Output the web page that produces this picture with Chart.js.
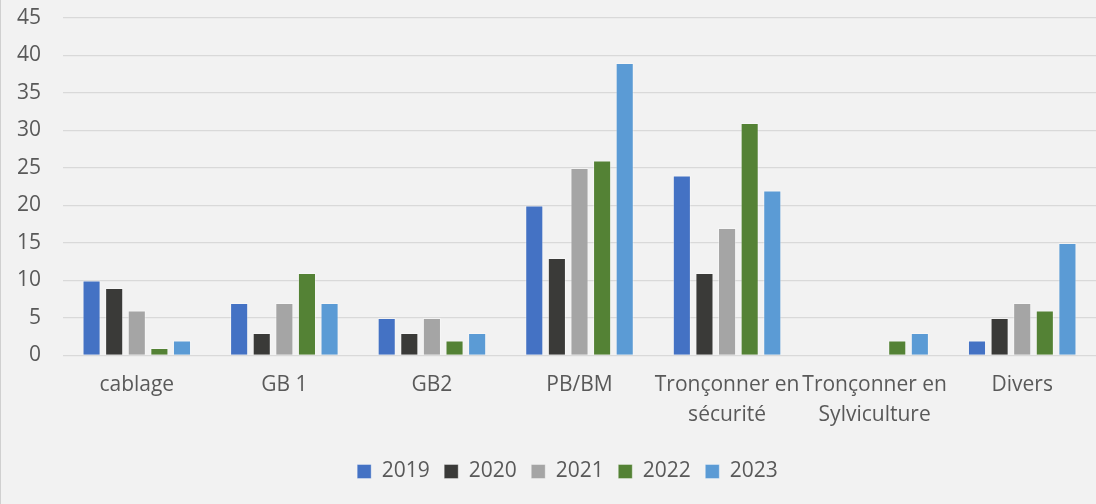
<!DOCTYPE html>
<html>
<head>
<meta charset="utf-8">
<script src="https://cdn.jsdelivr.net/npm/chart.js@4/dist/chart.umd.min.js"></script>
<style>
  html, body { margin: 0; padding: 0; background: #f2f2f2; }
  #wrap { width: 1095px; height: 504px; border-left: 1px solid #d0d0d0; }
  canvas { display: block; }
</style>
</head>
<body>
<div id="wrap"><canvas id="chart" width="1095" height="504"></canvas></div>
<script>
// Categories and yearly values
const categories = [
    'cablage',
    'GB 1',
    'GB2',
    'PB/BM',
    ['Tronçonner en', 'sécurité'],
    ['Tronçonner en', 'Sylviculture'],
    'Divers'
];
const years = ['2019', '2020', '2021', '2022', '2023'];
const values2019 = [10, 7, 5, 20, 24, null, 2];
const values2020 = [9, 3, 3, 13, 11, null, 5];
const values2021 = [6, 7, 5, 25, 17, null, 7];
const values2022 = [1, 11, 2, 26, 31, 2, 6];
const values2023 = [2, 7, 3, 39, 22, 3, 15];
const yearColors = ['#4472c4', '#3a3a38', '#a5a5a5', '#548235', '#5b9bd5'];

const textColor = '#595959';
const fontFamily = '"Open Sans", "Liberation Sans", sans-serif';

const seriesValues = [values2019, values2020, values2021, values2022, values2023];

const datasets = years.map((year, i) => ({
    label: year,
    data: seriesValues[i],
    backgroundColor: yearColors[i],
    borderColor: 'rgba(255,255,255,0.35)',
    borderWidth: 1,
    barPercentage: 0.8,
    categoryPercentage: 0.766
}));

// legend sits a bit right of centre in the original
const legendShift = {
    id: 'legendShift',
    afterLayout(chart) {
        if (chart.legend) chart.legend.left += 38;
    }
};

const ctx = document.getElementById('chart').getContext('2d');
new Chart(ctx, {
    type: 'bar',
    data: { labels: categories, datasets: datasets },
    plugins: [legendShift],
    options: {
        responsive: false,
        animation: false,
        layout: { padding: { left: 0, right: 0, top: 18, bottom: 12 } },
        plugins: {
            tooltip: { enabled: false },
            legend: {
                position: 'bottom',
                labels: {
                    boxWidth: 14,
                    boxHeight: 14,
                    padding: 14.5,
                    color: textColor,
                    font: { family: fontFamily, size: 21 }
                }
            }
        },
        scales: {
            x: {
                grid: { display: false },
                border: { display: false },
                ticks: {
                    color: textColor,
                    padding: 7,
                    maxRotation: 0,
                    autoSkip: false,
                    font: { family: fontFamily, size: 21, lineHeight: 1.4 }
                },
                afterFit(scale) { scale.height = 91; }
            },
            y: {
                min: 0,
                max: 45,
                grid: { color: '#d9d9d9', lineWidth: 1.3, drawTicks: false },
                border: { display: false },
                ticks: {
                    stepSize: 5,
                    color: textColor,
                    padding: 22,
                    font: { family: fontFamily, size: 21 }
                },
                afterFit(scale) {
                    scale.width = 62;
                    scale.paddingTop = 0;
                    scale.paddingBottom = 0;
                }
            }
        }
    }
});
</script>
</body>
</html>
